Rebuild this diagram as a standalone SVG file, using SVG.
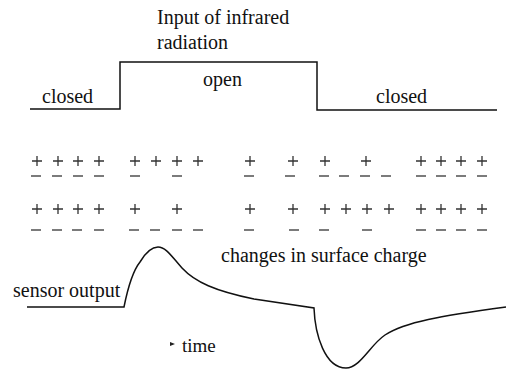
<svg xmlns="http://www.w3.org/2000/svg" width="508" height="372" viewBox="0 0 508 372">
<defs>
<style>
.t{font-family:"Liberation Serif","Times New Roman",serif;font-size:20px;fill:#111}
.ln{fill:none;stroke:#111;stroke-width:1.5}
.ch{stroke:#333;stroke-width:1.3;fill:none}
</style>
<path id="p" d="M-5,0H5M0,-5V5"/>
<path id="m" d="M-5,0H5"/>
</defs>
<rect width="508" height="372" fill="#fff"/>
<g id="labels">
<text class="t" x="157" y="24">Input of infrared</text>
<text class="t" x="157" y="49">radiation</text>
<text class="t" x="203" y="86">open</text>
<text class="t" x="42" y="103">closed</text>
<text class="t" x="376" y="103">closed</text>
<text class="t" x="221" y="262">changes in surface charge</text>
<text class="t" x="13" y="297">sensor output</text>
<text class="t" x="182" y="352" style="font-size:19px">time</text>
<path d="M170,342 L175,344 L170,346 Z" fill="#222"/>
</g>
<g id="shutter">
<path class="ln" d="M30,109 H120 V62 H317 V110 H497"/>
</g>
<g id="charges">
<g id="row1-plus" class="ch">
<use href="#p" x="37" y="161"/><use href="#p" x="58" y="161"/><use href="#p" x="78" y="161"/><use href="#p" x="99" y="161"/>
<use href="#p" x="135" y="161"/><use href="#p" x="156" y="161"/><use href="#p" x="177" y="161"/><use href="#p" x="198" y="161"/>
<use href="#p" x="250" y="161"/><use href="#p" x="293" y="161"/><use href="#p" x="325" y="161"/><use href="#p" x="366" y="161"/>
<use href="#p" x="421" y="161"/><use href="#p" x="441" y="161"/><use href="#p" x="461" y="161"/><use href="#p" x="482" y="161"/>
</g>
<g id="row1-minus" class="ch">
<use href="#m" x="36" y="176"/><use href="#m" x="57" y="176"/><use href="#m" x="78" y="176"/><use href="#m" x="99" y="176"/>
<use href="#m" x="135" y="176"/><use href="#m" x="177" y="176"/>
<use href="#m" x="249" y="176"/><use href="#m" x="290" y="176"/>
<use href="#m" x="324" y="176"/><use href="#m" x="344" y="176"/><use href="#m" x="365" y="176"/><use href="#m" x="386" y="176"/>
<use href="#m" x="421" y="176"/><use href="#m" x="441" y="176"/><use href="#m" x="461" y="176"/><use href="#m" x="482" y="176"/>
</g>
<g id="row2-plus" class="ch">
<use href="#p" x="37" y="209"/><use href="#p" x="58" y="209"/><use href="#p" x="78" y="209"/><use href="#p" x="99" y="209"/>
<use href="#p" x="135" y="209"/><use href="#p" x="177" y="209"/>
<use href="#p" x="250" y="209"/><use href="#p" x="293" y="209"/>
<use href="#p" x="325" y="209"/><use href="#p" x="346" y="209"/><use href="#p" x="367" y="209"/><use href="#p" x="389" y="209"/>
<use href="#p" x="421" y="209"/><use href="#p" x="441" y="209"/><use href="#p" x="461" y="209"/><use href="#p" x="482" y="209"/>
</g>
<g id="row2-minus" class="ch">
<use href="#m" x="36" y="230"/><use href="#m" x="57" y="230"/><use href="#m" x="77" y="230"/><use href="#m" x="99" y="230"/>
<use href="#m" x="134" y="230"/><use href="#m" x="155" y="230"/><use href="#m" x="177" y="230"/><use href="#m" x="198" y="230"/>
<use href="#m" x="249" y="230"/><use href="#m" x="294" y="230"/><use href="#m" x="324" y="230"/><use href="#m" x="367" y="230"/>
<use href="#m" x="421" y="230"/><use href="#m" x="441" y="230"/><use href="#m" x="461" y="230"/><use href="#m" x="482" y="230"/>
</g>
</g>
<g id="sensor">
<path class="ln" d="M27,307 H124 C127,292 132,272 140,262 C146,252 152,247 158,247 C166,247 172,257 182,268 C195,282 215,291 254,299 L314,308 C315,335 325,368 346,368 C360,368 370,345 385,335 C405,322 440,316 506,307"/>
</g>
</svg>
